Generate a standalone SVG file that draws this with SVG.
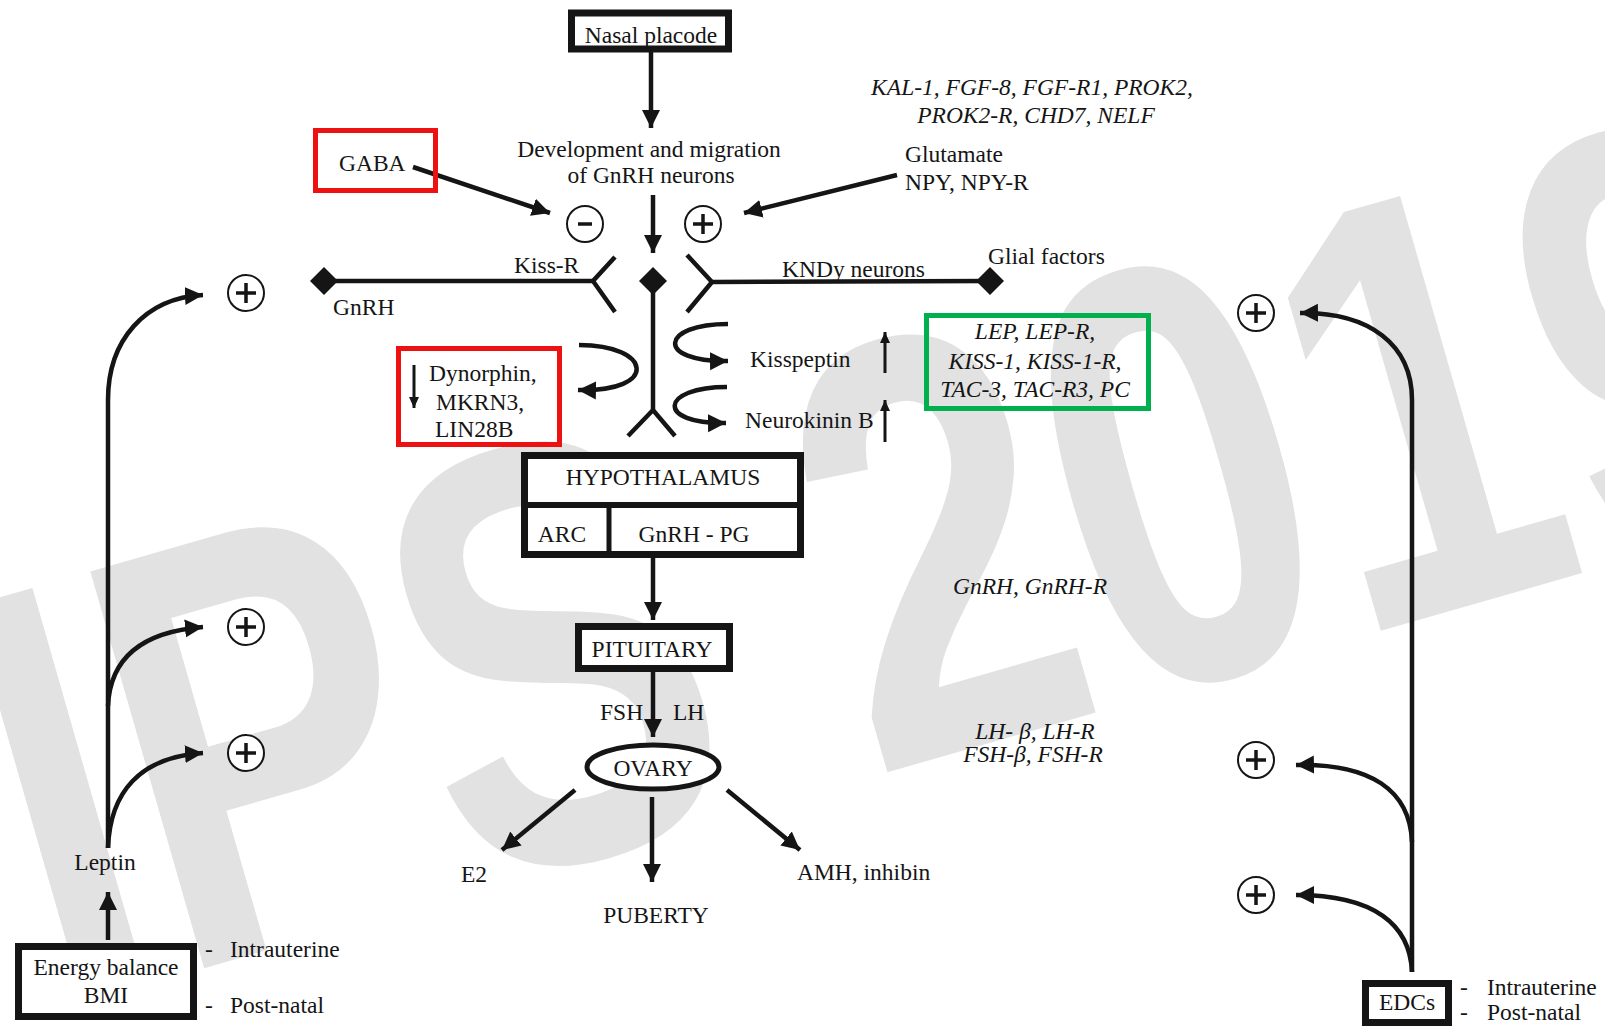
<svg xmlns="http://www.w3.org/2000/svg" width="1605" height="1026" viewBox="0 0 1605 1026">
<style>
.t{font-family:"Liberation Serif","Times New Roman",serif;font-size:23.5px;fill:#151515}
.i{font-style:italic}
.m{text-anchor:middle}
.ln{stroke:#151515;stroke-width:4.5;fill:none}
.th{stroke:#151515;stroke-width:3;fill:none}
.box{fill:#fff;stroke:#151515;stroke-width:7}
.red{fill:none;stroke:#ee1111;stroke-width:5}
.grn{fill:none;stroke:#00b04f;stroke-width:5}
.circ{fill:#fff;stroke:#151515;stroke-width:2}
.sign{stroke:#151515;stroke-width:3.5}
.wm{font-family:"Liberation Sans",Arial,sans-serif;font-weight:bold;fill:#e2e2e2}
</style>
<defs>
<marker id="ah" markerUnits="userSpaceOnUse" markerWidth="20" markerHeight="20" viewBox="0 0 20 20" refX="18" refY="10" orient="auto">
<path d="M0,1 L18,10 L0,19 Z" fill="#151515"/>
</marker>
<marker id="ahs" markerUnits="userSpaceOnUse" markerWidth="12" markerHeight="12" viewBox="0 0 12 12" refX="11" refY="6" orient="auto">
<path d="M0,1 L11,6 L0,11 Z" fill="#151515"/>
</marker>
<symbol id="plus" viewBox="-20 -20 40 40" overflow="visible">
<circle r="18" class="circ"/><path d="M-10,0 H10 M0,-10 V10" class="sign"/>
</symbol>
</defs>

<text class="wm" font-size="600" transform="translate(55,1011) rotate(-16) scale(0.75,1)">IPS 2019</text>

<g id="connectors">
<line class="ln" x1="651" y1="52" x2="651" y2="128" marker-end="url(#ah)"/>
<line class="ln" x1="653" y1="195" x2="653" y2="253" marker-end="url(#ah)"/>
<line class="ln" x1="413" y1="167" x2="550" y2="213" marker-end="url(#ah)"/>
<line class="ln" x1="897" y1="175" x2="744" y2="213" marker-end="url(#ah)"/>
<line class="ln" x1="324" y1="281" x2="593" y2="281"/>
<path class="ln" d="M615,257 L593,281 L615,312"/>
<line class="ln" x1="653" y1="281" x2="653" y2="410"/>
<path class="ln" d="M628,436 L653,410 L675,436"/>
<line class="ln" x1="712" y1="282" x2="990" y2="281"/>
<path class="ln" d="M687,255 L712,282 L687,312"/>
<path class="ln" d="M579,345 C652,345 660,392 578,390" marker-end="url(#ah)"/>
<path class="ln" d="M728,324 C660,324 655,362 728,361" marker-end="url(#ah)"/>
<path class="ln" d="M727,387 C660,387 655,424 726,423" marker-end="url(#ah)"/>
<line class="th" x1="414" y1="365" x2="414" y2="408" marker-end="url(#ahs)"/>
<line class="th" x1="885" y1="373" x2="885" y2="332" marker-end="url(#ahs)"/>
<line class="th" x1="885" y1="442" x2="885" y2="400" marker-end="url(#ahs)"/>
<line class="ln" x1="653" y1="558" x2="653" y2="620" marker-end="url(#ah)"/>
<line class="ln" x1="653" y1="672" x2="653" y2="737" marker-end="url(#ah)"/>
<line class="ln" x1="575" y1="790" x2="502" y2="850" marker-end="url(#ah)"/>
<line class="ln" x1="652" y1="797" x2="652" y2="882" marker-end="url(#ah)"/>
<line class="ln" x1="727" y1="790" x2="800" y2="850" marker-end="url(#ah)"/>
<line class="ln" x1="108" y1="940" x2="108" y2="892" marker-end="url(#ah)"/>
<path class="ln" d="M108,848 L108,400 C108,340 145,298 203,295" marker-end="url(#ah)"/>
<path class="ln" d="M108,706 C110,660 140,632 203,627" marker-end="url(#ah)"/>
<path class="ln" d="M108,848 C110,792 140,757 203,753" marker-end="url(#ah)"/>
<path class="ln" d="M1412,972 L1412,400 C1412,345 1370,312 1300,313" marker-end="url(#ah)"/>
<path class="ln" d="M1412,842 C1410,790 1370,763 1296,765" marker-end="url(#ah)"/>
<path class="ln" d="M1412,972 C1410,925 1375,895 1296,895" marker-end="url(#ah)"/>
</g>

<g id="nasal-placode"><rect class="box" x="571.5" y="13" width="157" height="36"/><text class="t m" x="651" y="43">Nasal placode</text></g>
<g id="development"><text class="t m" x="649" y="157">Development and migration</text><text class="t m" x="651" y="183">of GnRH neurons</text></g>
<g id="gaba"><rect class="red" x="315.5" y="130.5" width="120" height="60"/><text class="t" x="339" y="171">GABA</text></g>
<g id="genes-top"><text class="t i m" x="1032" y="95">KAL-1, FGF-8, FGF-R1, PROK2,</text><text class="t i m" x="1036" y="123">PROK2-R, CHD7, NELF</text></g>
<g id="glutamate"><text class="t" x="905" y="162">Glutamate</text><text class="t" x="905" y="190">NPY, NPY-R</text></g>
<g id="minus"><circle class="circ" cx="585" cy="224" r="18"/><path class="sign" d="M578,224 H592"/></g>
<g id="plus-top"><use href="#plus" x="683" y="204" width="40" height="40"/></g>
<g id="gnrh-diamond"><path d="M324,267 L338,281 L324,295 L310,281 Z" fill="#151515"/><text class="t" x="333" y="315">GnRH</text></g>
<g id="kiss-r"><text class="t" x="514" y="273">Kiss-R</text></g>
<g id="center-diamond"><path d="M653,267 L667,281 L653,295 L639,281 Z" fill="#151515"/></g>
<g id="kndy"><text class="t" x="782" y="277">KNDy neurons</text></g>
<g id="glial"><path d="M990,267 L1004,281 L990,295 L976,281 Z" fill="#151515"/><text class="t" x="988" y="264">Glial factors</text></g>
<g id="dynorphin"><rect class="red" x="398.5" y="348.5" width="161" height="96"/><text class="t" x="429" y="381">Dynorphin,</text><text class="t" x="436" y="410">MKRN3,</text><text class="t" x="435" y="437" font-size="16.5">LIN28B</text></g>
<g id="kisspeptin"><text class="t" x="750" y="367">Kisspeptin</text></g>
<g id="neurokinin"><text class="t" x="745" y="428">Neurokinin B</text></g>
<g id="genes-green"><rect class="grn" x="926.5" y="315.5" width="222" height="93"/><text class="t i m" x="1035" y="339">LEP, LEP-R,</text><text class="t i m" x="1035" y="369">KISS-1, KISS-1-R,</text><text class="t i m" x="1035" y="397">TAC-3, TAC-R3, PC</text></g>
<g id="hypothalamus"><rect class="box" x="524.5" y="455.5" width="276" height="99"/><line x1="521" y1="505" x2="804" y2="505" stroke="#151515" stroke-width="6"/><line x1="609" y1="505" x2="609" y2="556" stroke="#151515" stroke-width="5"/><text class="t m" x="663" y="485">HYPOTHALAMUS</text><text class="t m" x="562" y="542">ARC</text><text class="t m" x="694" y="542">GnRH - PG</text></g>
<g id="genes-gnrh"><text class="t i m" x="1030" y="594">GnRH, GnRH-R</text></g>
<g id="pituitary"><rect class="box" x="578.5" y="626.5" width="151" height="42"/><text class="t m" x="652" y="657">PITUITARY</text></g>
<g id="fsh-lh"><text class="t" x="600" y="720">FSH</text><text class="t" x="673" y="720">LH</text></g>
<g id="genes-lh"><text class="t i m" x="1035" y="739">LH- β, LH-R</text><text class="t i m" x="1033" y="762">FSH-β, FSH-R</text></g>
<g id="ovary"><ellipse cx="653" cy="767" rx="66" ry="22" fill="#fff" stroke="#151515" stroke-width="5"/><text class="t m" x="653" y="776">OVARY</text></g>
<g id="e2"><text class="t" x="461" y="882">E2</text></g>
<g id="amh"><text class="t" x="797" y="880">AMH, inhibin</text></g>
<g id="puberty"><text class="t m" x="656" y="923">PUBERTY</text></g>
<g id="plus-left"><use href="#plus" x="226" y="273" width="40" height="40"/><use href="#plus" x="226" y="607" width="40" height="40"/><use href="#plus" x="226" y="733" width="40" height="40"/></g>
<g id="leptin"><text class="t m" x="105" y="870">Leptin</text></g>
<g id="energy"><rect class="box" x="18.5" y="946.5" width="175" height="70"/><text class="t m" x="106" y="975">Energy balance</text><text class="t m" x="106" y="1003">BMI</text><text class="t" x="205" y="957">-</text><text class="t" x="230" y="957">Intrauterine</text><text class="t" x="205" y="1013">-</text><text class="t" x="230" y="1013">Post-natal</text></g>
<g id="plus-right"><use href="#plus" x="1236" y="293" width="40" height="40"/><use href="#plus" x="1236" y="740" width="40" height="40"/><use href="#plus" x="1236" y="875" width="40" height="40"/></g>
<g id="edcs"><rect class="box" x="1365.5" y="983.5" width="83" height="39"/><text class="t m" x="1407" y="1010">EDCs</text><text class="t" x="1460" y="995">-</text><text class="t" x="1487" y="995">Intrauterine</text><text class="t" x="1460" y="1020">-</text><text class="t" x="1487" y="1020">Post-natal</text></g>
</svg>
